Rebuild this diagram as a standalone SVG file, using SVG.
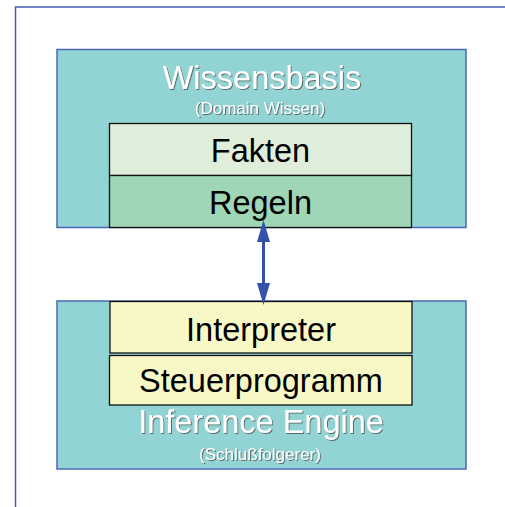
<svg xmlns="http://www.w3.org/2000/svg" width="505" height="507" viewBox="0 0 505 507">
  <style>
    .frame { fill: none; stroke: #4060b4; stroke-width: 1.5; }
    .panel { fill: #92d4d4; stroke: #4a68b8; stroke-width: 1.5; }
    .layer { stroke: #111; stroke-width: 1.3; }
    .big { font-family: "Liberation Sans", Arial, sans-serif; font-size: 32.5px; text-anchor: middle; }
    .title { fill: #ffffff; filter: url(#shadow); }
    .sub { font-family: "Liberation Sans", Arial, sans-serif; font-size: 17px; text-anchor: middle; fill: #ffffff; filter: url(#shadow); }
    .dark { fill: #000000; }
    .link { stroke: #3452aa; stroke-width: 3; fill: none; }
    .tip { fill: #3452aa; }
  </style>
  <defs>
    <filter id="shadow" x="-5%" y="-20%" width="110%" height="140%">
      <feDropShadow dx="1" dy="1" stdDeviation="0.4" flood-color="#505050" flood-opacity="0.8"/>
    </filter>
  </defs>

  <!-- page frame, open to the right and bottom -->
  <path class="frame" d="M505,7 H15.5 V507"/>

  <!-- knowledge base -->
  <g id="wissensbasis">
    <rect class="panel" x="57" y="49.5" width="409" height="178"/>
    <text class="big title" x="262" y="89">Wissensbasis</text>
    <text class="sub" x="260" y="114">(Domain Wissen)</text>
  </g>
  <g id="fakten">
    <rect class="layer" x="109.5" y="123.5" width="302" height="52" fill="#dfeedb"/>
    <text class="big dark" x="260.5" y="161.5">Fakten</text>
  </g>
  <g id="regeln">
    <rect class="layer" x="109.5" y="175.5" width="302" height="52" fill="#9fd6b6"/>
    <text class="big dark" x="260.5" y="213.5">Regeln</text>
  </g>

  <!-- inference engine -->
  <g id="inference-engine">
    <rect class="panel" x="57" y="301" width="409" height="168"/>
    <text class="big title" x="261" y="432.5">Inference Engine</text>
    <text class="sub" x="260" y="460">(Schlußfolgerer)</text>
  </g>
  <g id="interpreter">
    <rect class="layer" x="110" y="301.5" width="302" height="51.5" fill="#f8f8c6"/>
    <text class="big dark" x="261" y="341">Interpreter</text>
  </g>
  <g id="steuerprogramm">
    <rect class="layer" x="109.5" y="355.5" width="302.5" height="49.5" fill="#f8f8c6"/>
    <text class="big dark" x="261" y="392">Steuerprogramm</text>
  </g>

  <!-- connectors -->
  <g id="connectors">
    <path class="link" d="M263.5,241 V284"/>
    <path class="tip" d="M263.5,220 L270,242 L257,242 Z"/>
    <path class="tip" d="M263.5,305 L270,283 L257,283 Z"/>
  </g>
</svg>
